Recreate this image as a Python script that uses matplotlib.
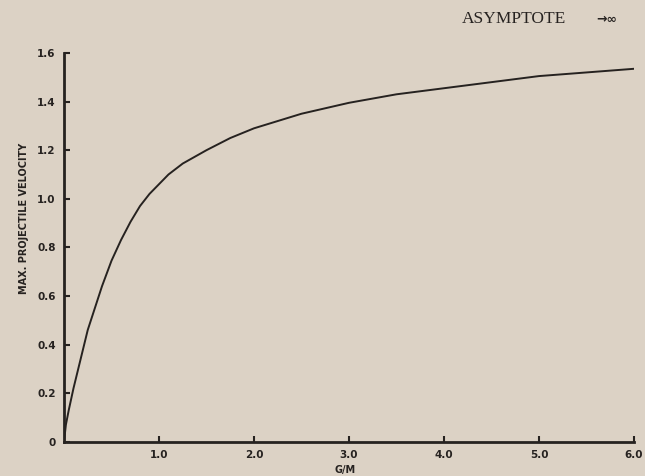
import matplotlib
matplotlib.use("Agg")
import matplotlib.pyplot as plt
from matplotlib.ticker import FixedLocator, FuncFormatter

# Data
g_over_m = [0, 0.02, 0.05, 0.1, 0.15, 0.2, 0.25, 0.3, 0.4, 0.5, 0.6, 0.7, 0.8, 0.9,
            1.0, 1.1, 1.25, 1.5, 1.75, 2.0, 2.5, 3.0, 3.5, 4.0, 4.5, 5.0, 5.5, 6.0]
velocity = [0, 0.07, 0.13, 0.22, 0.30, 0.38, 0.46, 0.52, 0.64, 0.745, 0.83, 0.905, 0.97, 1.02,
            1.06, 1.10, 1.145, 1.20, 1.25, 1.29, 1.35, 1.395, 1.43, 1.455, 1.48, 1.505, 1.52, 1.535]
x_ticks = [1.0, 2.0, 3.0, 4.0, 5.0, 6.0]
y_ticks = [0, 0.2, 0.4, 0.6, 0.8, 1.0, 1.2, 1.4, 1.6]

paper = "#DCD2C5"
ink = "#262220"

fig = plt.figure(figsize=(6.45, 4.76), dpi=100, facecolor=paper)
ax = fig.add_axes([64/645, 1-441.7/476, (634-64)/645, (441.7-53)/476])
ax.set_facecolor(paper)

ax.plot(g_over_m, velocity, color=ink, lw=1.4, solid_joinstyle="round")

ax.set_xlim(0, 6.0)
ax.set_ylim(0, 1.6)
for s in ["top", "right"]:
    ax.spines[s].set_visible(False)
for s in ["left", "bottom"]:
    ax.spines[s].set_linewidth(2.0)
    ax.spines[s].set_color(ink)

ax.xaxis.set_major_locator(FixedLocator(x_ticks))
ax.yaxis.set_major_locator(FixedLocator(y_ticks))
ax.xaxis.set_major_formatter(FuncFormatter(lambda v, p: f"{v:.1f}"))
ax.yaxis.set_major_formatter(FuncFormatter(lambda v, p: "0" if v == 0 else f"{v:.1f}"))
ax.tick_params(axis="both", direction="in", length=4, width=1.5, color=ink,
               labelcolor=ink)
ax.tick_params(axis="y", pad=6)
ax.tick_params(axis="x", pad=6)
for lab in ax.get_xticklabels() + ax.get_yticklabels():
    lab.set_fontweight("bold")
    lab.set_fontsize(7.5)
    lab.set_family("DejaVu Sans")

fig.text(24/645, 1-218/476, "MAX. PROJECTILE VELOCITY", rotation=90,
         ha="center", va="center", fontsize=7, fontweight="bold", color=ink,
         family="DejaVu Sans")
fig.text(345/645, 1-470/476, "G/M", ha="center", va="center", fontsize=7,
         fontweight="bold", color=ink, family="DejaVu Sans")
fig.text(462/645, 1-19/476, "ASYMPTOTE", ha="left", va="center", fontsize=12.5,
         color=ink, family="Liberation Serif")
fig.text(596/645, 1-20/476, "→∞", ha="left", va="center", fontsize=9,
         fontweight="bold", color=ink, family="DejaVu Sans")

fig.savefig("out.png", dpi=100, facecolor=paper)
